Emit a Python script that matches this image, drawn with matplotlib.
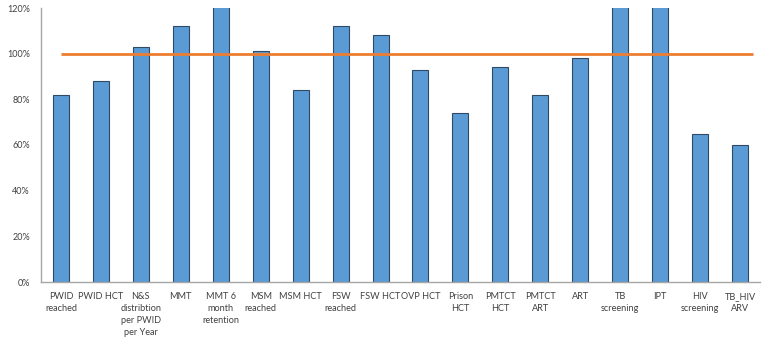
import numpy as np
import matplotlib.pyplot as plt
from matplotlib.ticker import PercentFormatter

plt.rcParams['font.family'] = ['Lato', 'DejaVu Sans']

categories = ['PWID\nreached', 'PWID HCT', 'N&S\ndistribtion\nper PWID\nper Year',
              'MMT', 'MMT 6\nmonth\nretention', 'MSM\nreached', 'MSM HCT',
              'FSW\nreached', 'FSW HCT', 'OVP HCT', 'Prison\nHCT', 'PMTCT\nHCT',
              'PMTCT\nART', 'ART', 'TB\nscreening', 'IPT', 'HIV\nscreening',
              'TB_HIV\nARV']
# achievement against target, percent (bars above 120 run off the top)
achieved = [82, 88, 103, 112, 125, 101, 84, 112, 108, 93, 74, 94, 82, 98,
            130, 130, 65, 60]
target = 100
yticks = [0, 20, 40, 60, 80, 100, 120]

fig = plt.figure(figsize=(7.8, 3.39), dpi=100)
ax = fig.add_axes([41 / 780, 57 / 339, 719 / 780, 274 / 339])

x = np.arange(len(categories))
ax.bar(x, achieved, width=0.4, color='#5B9BD5', edgecolor='#2E4A66',
       linewidth=0.8, zorder=2)
ax.hlines(target, x[0], x[-1] + 0.33, color='#ED7D31', linewidth=2.0, zorder=3)

ax.set_xlim(-0.5, len(categories) - 0.5)
ax.set_ylim(0, 120)
ax.set_yticks(yticks)
ax.yaxis.set_major_formatter(PercentFormatter(decimals=0))
ax.set_xticks(x)
ax.set_xticklabels(categories, fontsize=6.6, color='#404040', linespacing=1.45)
ax.tick_params(axis='y', labelsize=6.5, labelcolor='#404040', length=0, pad=8)
ax.tick_params(axis='x', length=0, pad=7)

for side in ['top', 'right']:
    ax.spines[side].set_visible(False)
for side in ['left', 'bottom']:
    ax.spines[side].set_color('#A6A6A6')
    ax.spines[side].set_linewidth(1.0)

fig.savefig('out.png', dpi=100)
